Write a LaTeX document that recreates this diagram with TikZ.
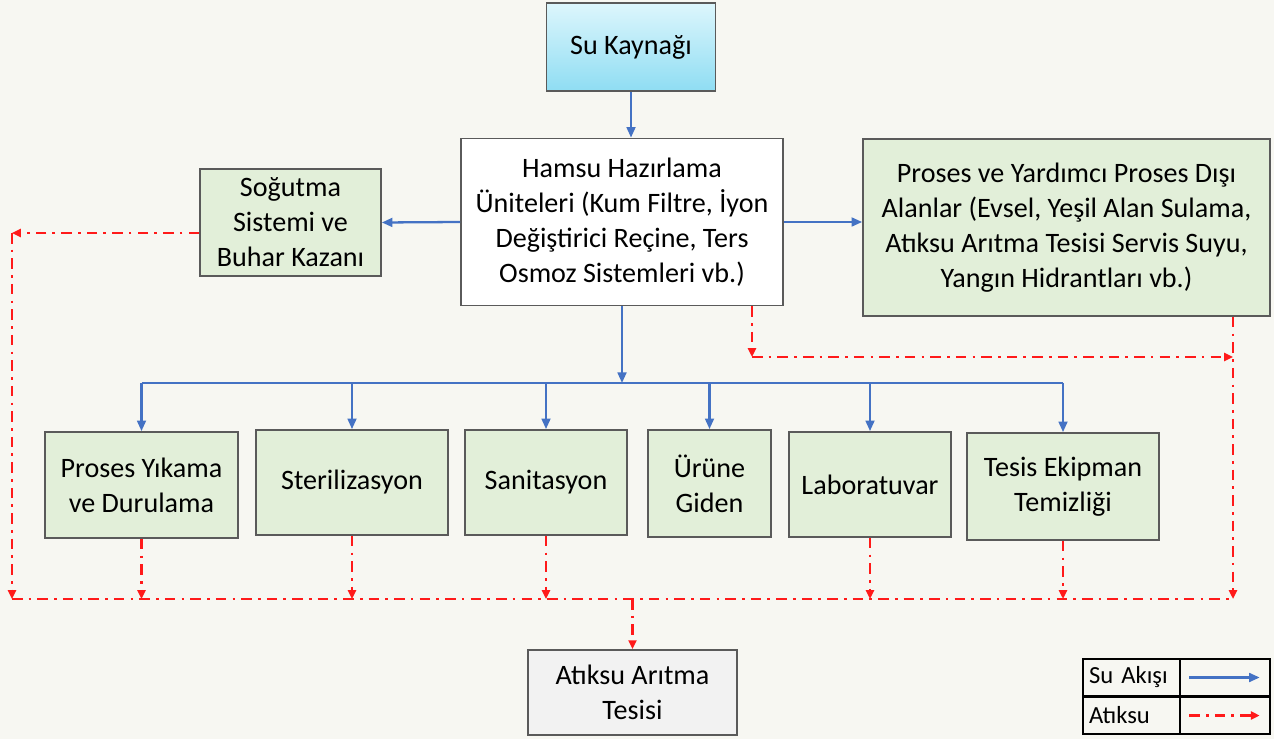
\documentclass[tikz,border=0pt]{standalone}
\usepackage{fontspec}
\setmainfont{Carlito}
\usepackage{xcolor}
\usetikzlibrary{arrows.meta}
\usetikzlibrary{positioning}
\definecolor{bgpaper}{HTML}{F7F7F2}
\definecolor{boxgreen}{HTML}{E2EFD9}
\definecolor{boxgrey}{HTML}{F2F2F2}
\definecolor{skytop}{HTML}{DDF6FC}
\definecolor{skybottom}{HTML}{8FDDF3}
\definecolor{flowblue}{HTML}{4472C4}
\definecolor{wastered}{HTML}{FF1A1A}
\definecolor{edgegray}{HTML}{5A5A5A}
\tikzset{
  box/.style={draw=edgegray, line width=1pt, fill=boxgreen, align=center, inner sep=2pt,
    font=\fontsize{16}{19.9}\selectfont},
  water/.style={draw=flowblue, line width=1.3pt, -{Triangle[length=6pt,width=5pt]}},
  dashdot/.style={draw=wastered, line width=1.3pt, dash pattern=on 6pt off 3.5pt on 1.5pt off 3.5pt},
  waste/.style={dashdot, -{Triangle[length=5pt,width=4.5pt]}},
  legcell/.style={draw=black, line width=0.8pt, minimum height=0.74cm, inner sep=3pt,
    font=\fontsize{14}{16}\selectfont}
}
\begin{document}
\begin{tikzpicture}[x=0.02cm,y=-0.02cm]
   \fill[bgpaper] (0,0) rectangle (1274,739);
   \useasboundingbox (0,0) rectangle (1274,739);

   % upper row
   \node[box, top color=skytop, bottom color=skybottom, minimum width=3.38cm, minimum height=1.76cm] (kaynak) at (631,47) {Su Kaynağı};
   \node[box, fill=white, minimum width=6.44cm, minimum height=3.34cm] (hamsu) at (622,222)
     {Hamsu Hazırlama\\Üniteleri (Kum Filtre, İyon\\Değiştirici Reçine, Ters\\Osmoz Sistemleri vb.)};
   \node[box, minimum width=3.62cm, minimum height=2.14cm] (sogutma) at (290.5,222.5)
     {Soğutma\\Sistemi ve\\Buhar Kazanı};
   \node[box, minimum width=8.14cm, minimum height=3.54cm] (disalan) at (1066.5,227.5)
     {Proses ve Yardımcı Proses Dışı\\Alanlar (Evsel, Yeşil Alan Sulama,\\Atıksu Arıtma Tesisi Servis Suyu,\\Yangın Hidrantları vb.)};

   % lower row
   \node[box, minimum width=3.86cm, minimum height=2.12cm] (yikama) at (141.5,485) {Proses Yıkama\\ve Durulama};
   \node[box, minimum width=3.84cm, minimum height=2.1cm] (steril) at (352,482.5) {Sterilizasyon};
   \node[box, minimum width=3.24cm, minimum height=2.1cm] (sanit) at (546,482.5) {Sanitasyon};
   \node[box, minimum width=2.46cm, minimum height=2.14cm] (urune) at (709.5,483.5) {Ürüne\\Giden};
   \node[box, minimum width=3.24cm, minimum height=2.1cm] (lab) at (870,484.5) {Laboratuvar};
   \node[box, minimum width=3.84cm, minimum height=2.14cm] (tesis) at (1063,486.5) {Tesis Ekipman\\Temizliği};
   \node[box, fill=boxgrey, minimum width=4.18cm, minimum height=1.7cm] (aritma) at (632.5,692.5) {Atıksu Arıtma\\Tesisi};

   % water flow
   \draw[water] (kaynak.south) -- (kaynak.south |- hamsu.north);
   \draw[water] (hamsu.west) -- (sogutma.east);
   \draw[water] (hamsu.east) -- (disalan.west |- hamsu.east);
   \coordinate (bus) at (622,383);
   \draw[water] (hamsu.south) -- (bus);
   \draw[flowblue, line width=1.3pt] (yikama.north |- bus) -- (tesis.north |- bus);
   \foreach \n in {yikama,steril,sanit,urune,lab,tesis}
     \draw[water] (\n.north |- bus) -- (\n.north);

   % waste water
   \coordinate (wl) at (12,233);
   \coordinate (wb) at (12,599);
   \coordinate (hc) at (752,357);
   \coordinate (jr) at (1233,357);
   \coordinate (wr) at (1233,599);
   \draw[waste] (sogutma.west |- wl) -- (wl);
   \draw[waste] (wl) -- (wb);
   \draw[dashdot] (wb) -- (wr);
   \foreach \n in {yikama,steril,sanit,lab,tesis}
     \draw[waste] (\n.south) -- (\n.south |- wb);
   \draw[waste] (hamsu.south -| hc) -- (hc);
   \draw[waste] (hc) -- (jr);
   \draw[waste] (disalan.south -| jr) -- (wr);
   \draw[waste] (aritma.north |- wb) -- (aritma.north);

   % legend
   \node[legcell, minimum width=1.94cm, text width=1.7cm, align=left] (legsu) at (1131.5,677.5) {Su Akışı};
   \node[legcell, minimum width=1.8cm] (legsuok) at (1225,677.5) {};
   \node[legcell, minimum width=1.94cm, text width=1.7cm, align=left] (legatik) at (1131.5,715.5) {Atıksu};
   \node[legcell, minimum width=1.8cm] (legatikok) at (1225,715.5) {};
   \draw[water] ([xshift=0.2cm]legsuok.west) -- ([xshift=-0.22cm]legsuok.east);
   \draw[waste] ([xshift=0.2cm]legatikok.west) -- ([xshift=-0.22cm]legatikok.east);
\end{tikzpicture}
\end{document}
